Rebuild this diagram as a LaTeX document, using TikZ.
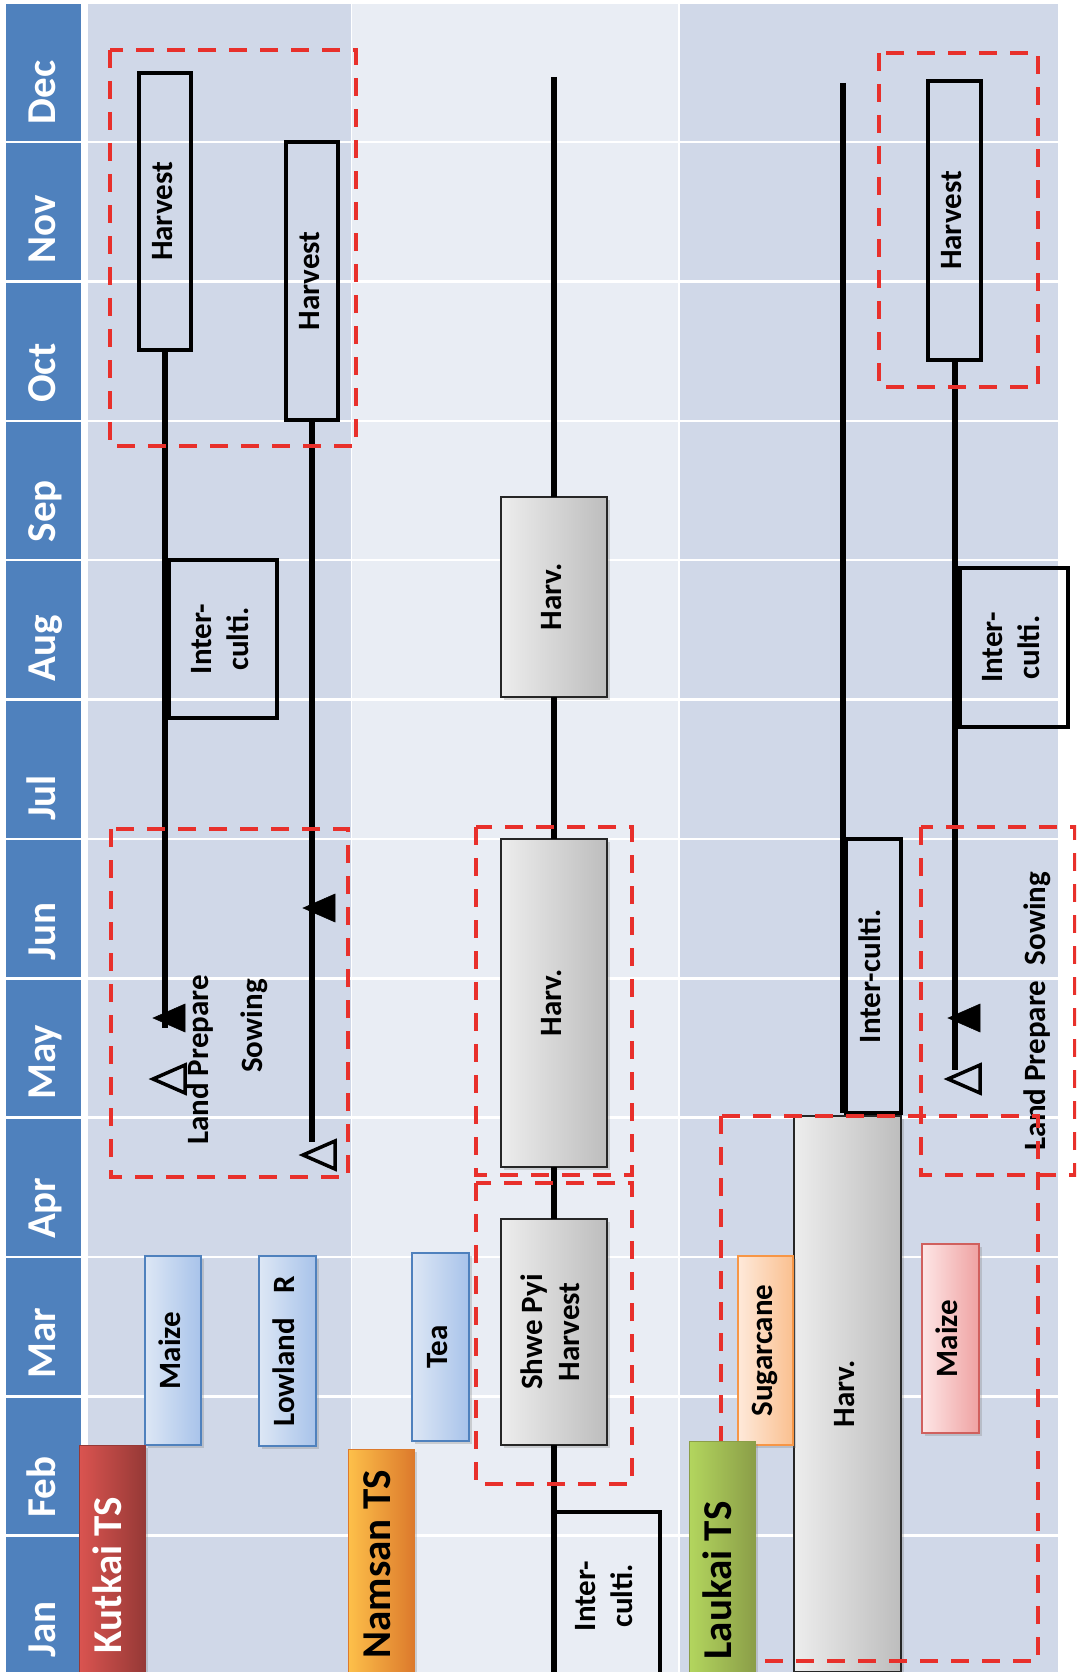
\documentclass[tikz,border=0pt]{standalone}
\usepackage{fontspec}
\setmainfont{Carlito}
\usepackage{graphicx}
\usetikzlibrary{shapes.geometric,shadows}
\definecolor{monthblue}{HTML}{4F81BD}
\definecolor{lanedark}{HTML}{D0D8E8}
\definecolor{lanelight}{HTML}{E9EDF4}
\definecolor{redash}{HTML}{E8302B}
\definecolor{grayL}{HTML}{EDEDED}
\definecolor{grayR}{HTML}{BDBDBD}
\definecolor{blueL}{HTML}{DDE7F5}
\definecolor{blueR}{HTML}{A8C3EA}
\definecolor{sugarL}{HTML}{FEE9DA}
\definecolor{sugarR}{HTML}{FAC090}
\definecolor{sugarB}{HTML}{F79646}
\definecolor{pinkL}{HTML}{FDE6E6}
\definecolor{pinkR}{HTML}{EFA2A2}
\definecolor{pinkB}{HTML}{D0605E}
\definecolor{kutL}{HTML}{DA5450}
\definecolor{kutR}{HTML}{963936}
\definecolor{namL}{HTML}{FDC04A}
\definecolor{namR}{HTML}{DC7A2C}
\definecolor{lauL}{HTML}{B3D65E}
\definecolor{lauR}{HTML}{8B9E48}
\newcommand{\rtx}[1]{\rotatebox{90}{\begin{tabular}{@{}c@{}}#1\end{tabular}}}
\begin{document}
\begin{tikzpicture}[x=1pt,y=-1pt,
  every node/.style={inner sep=0pt, outer sep=0pt},
  boxfont/.style={font=\fontsize{31}{37}\selectfont\bfseries},
  bigfont/.style={font=\fontsize{41}{48}\selectfont\bfseries},
  tline/.style={line width=6pt, draw=black},
  gridline/.style={draw=white, line width=2.5pt},
  blackbox/.style={boxfont, draw=black, line width=4pt},
  softshadow/.style={drop shadow={shadow xshift=2.5pt, shadow yshift=-2.5pt, opacity=0.3}},
  graybox/.style={boxfont, draw=black!85, line width=1.5pt, left color=grayL, right color=grayR, softshadow},
  cropblue/.style={boxfont, draw=monthblue, line width=1.5pt, left color=blueL, right color=blueR, softshadow},
  cropsugar/.style={boxfont, draw=sugarB, line width=1.5pt, left color=sugarL, right color=sugarR, softshadow},
  croppink/.style={boxfont, draw=pinkB, line width=1.5pt, left color=pinkL, right color=pinkR, softshadow},
  tsbox/.style={bigfont, line width=1pt, softshadow},
  mlabel/.style={bigfont, text=white, rotate=90, anchor=base west},
  tri/.style={isosceles triangle, isosceles triangle stretches, shape border rotate=180, minimum width=28pt, minimum height=32pt, draw=black, anchor=apex},
  trifill/.style={tri, fill=black, line width=0.5pt},
  triopen/.style={tri, line width=3.5pt},
  freetext/.style={boxfont, rotate=90},
  rdash/.style={draw=redash, line width=4.5pt, dash pattern=on 18pt off 13pt}
]
\useasboundingbox (0,0) rectangle (1076,1672);
\begin{scope}
\clip (0,0) rectangle (1076,1672);
\fill[white] (0,0) rectangle (1076,1672);
% columns
\fill[monthblue] (6,4) rectangle (81,1680);
\fill[lanedark] (88,4) rectangle (350.5,1680);
\fill[lanelight] (352,4) rectangle (678,1680);
\fill[lanedark] (680,4) rectangle (1058,1680);
\foreach \m in {1,...,11}
  \draw[gridline] (6,{1675-139.35*\m}) -- (1058,{1675-139.35*\m});
\foreach \m/\n in {1/Jan,2/Feb,3/Mar,4/Apr,5/May,6/Jun,7/Jul,8/Aug,9/Sep,10/Oct,11/Nov,12/Dec}
  \node[mlabel] (m\n) at (55,{1657-139.35*(\m-1)}) {\n};

% ---------- Kutkai ----------
\node[blackbox, minimum width=52pt, minimum height=277pt] (KH1) at (165,211.5) {\rtx{Harvest}};
\node[blackbox, minimum width=52pt, minimum height=278pt] (KH2) at (312,281) {\rtx{Harvest}};
\node[blackbox, minimum width=108pt, minimum height=158pt] (KIC) at (223,639) {\rtx{Inter-\\culti.}};
\node[cropblue, minimum width=56pt, minimum height=189pt] (KMZ) at (173,1350.5) {\rtx{Maize}};
\node[cropblue, minimum width=57pt, minimum height=190pt] (KLR) at (287.5,1351) {\rtx{Lowland\hspace{0.8em}R}};
\node[tsbox, left color=kutL, right color=kutR, draw=kutR, text=white, minimum width=66pt, minimum height=260pt] (KTS) at (112,1575) {\rtx{Kutkai TS}};
\node[trifill] (KT1f) at (153,1018) {};
\node[triopen] (KT1o) at (153,1079) {};
\node[trifill] (KT2f) at (303,908) {};
\node[triopen] (KT2o) at (303,1155) {};
\coordinate (k1end) at (165,1028);
\coordinate (k2end) at (312,1142);
\node[freetext] (KLP) at (200,1060) {Land Prepare};
\node[freetext] (KSW) at (254,1026) {Sowing};
\draw[tline] (KH1.south) -- (k1end);
\draw[tline] (KH2.south) -- (k2end);

% ---------- Namsan ----------
\coordinate (ntop) at (554,77);
\coordinate (nbot) at (554,1680);
\node[graybox, minimum width=106pt, minimum height=200pt] (NH1) at (554,597) {\rtx{Harv.}};
\node[graybox, minimum width=106pt, minimum height=328pt] (NH2) at (554,1003) {\rtx{Harv.}};
\node[graybox, minimum width=106pt, minimum height=226pt] (NSP) at (554,1332) {\rtx{Shwe Pyi\\Harvest}};
\node[blackbox, minimum width=107pt, minimum height=168pt] (NIC) at (606.5,1596) {\rtx{Inter-\\culti.}};
\node[cropblue, minimum width=57pt, minimum height=188pt] (NTea) at (440.5,1347) {\rtx{Tea}};
\node[tsbox, left color=namL, right color=namR, draw=namR, minimum width=66pt, minimum height=231pt] (NTS) at (381,1564.5) {\rtx{Namsan TS}};
\draw[tline] (ntop) -- (NH1.north);
\draw[tline] (NH1.south) -- (NH2.north);
\draw[tline] (NH2.south) -- (NSP.north);
\draw[tline] (NSP.south) -- (nbot);

% ---------- Laukai ----------
\coordinate (latop) at (843,83);
\coordinate (labot) at (843,1113);
\node[blackbox, minimum width=55pt, minimum height=274pt] (LIC1) at (873.5,976) {\rtx{Inter-culti.}};
\node[graybox, minimum width=107pt, minimum height=556pt] (LHV) at (847.5,1394) {\rtx{Harv.}};
\node[blackbox, minimum width=53pt, minimum height=279pt] (LH) at (954.5,220.5) {\rtx{Harvest}};
\coordinate (lbend) at (954.5,1070);
\node[blackbox, minimum width=108pt, minimum height=159pt] (LIC2) at (1014,647.5) {\rtx{Inter-\\culti.}};
\node[cropsugar, minimum width=55pt, minimum height=189pt] (LSG) at (765.5,1350.5) {\rtx{Sugarcane}};
\node[croppink, minimum width=57pt, minimum height=189pt] (LMZ) at (950.5,1338.5) {\rtx{Maize}};
\node[trifill] (LTf) at (948,1018) {};
\node[triopen] (LTo) at (948,1079) {};
\node[freetext] (LLP) at (1037,1011) {Land Prepare\hspace{0.5em}Sowing};
\draw[tline] (latop) -- (labot);
\draw[tline] (LH.south) -- (lbend);

% ---------- red dashed frames ----------
\draw[rdash] (110,50) rectangle (356,446);
\draw[rdash] (111,829) rectangle (348,1177);
\draw[rdash] (476,827) rectangle (632,1175);
\draw[rdash] (476,1183) rectangle (632,1484);
\draw[rdash] (879,53) rectangle (1038,387);
\draw[rdash] (921,827) rectangle (1075,1175);
\draw[rdash] (721,1116) rectangle (1038,1661);

% Laukai TS label sits above the frame
\node[tsbox, left color=lauL, right color=lauR, draw=lauR, minimum width=66pt, minimum height=279pt] (LTS) at (722,1580.5) {\rtx{Laukai TS}};
\end{scope}
\end{tikzpicture}
\end{document}
